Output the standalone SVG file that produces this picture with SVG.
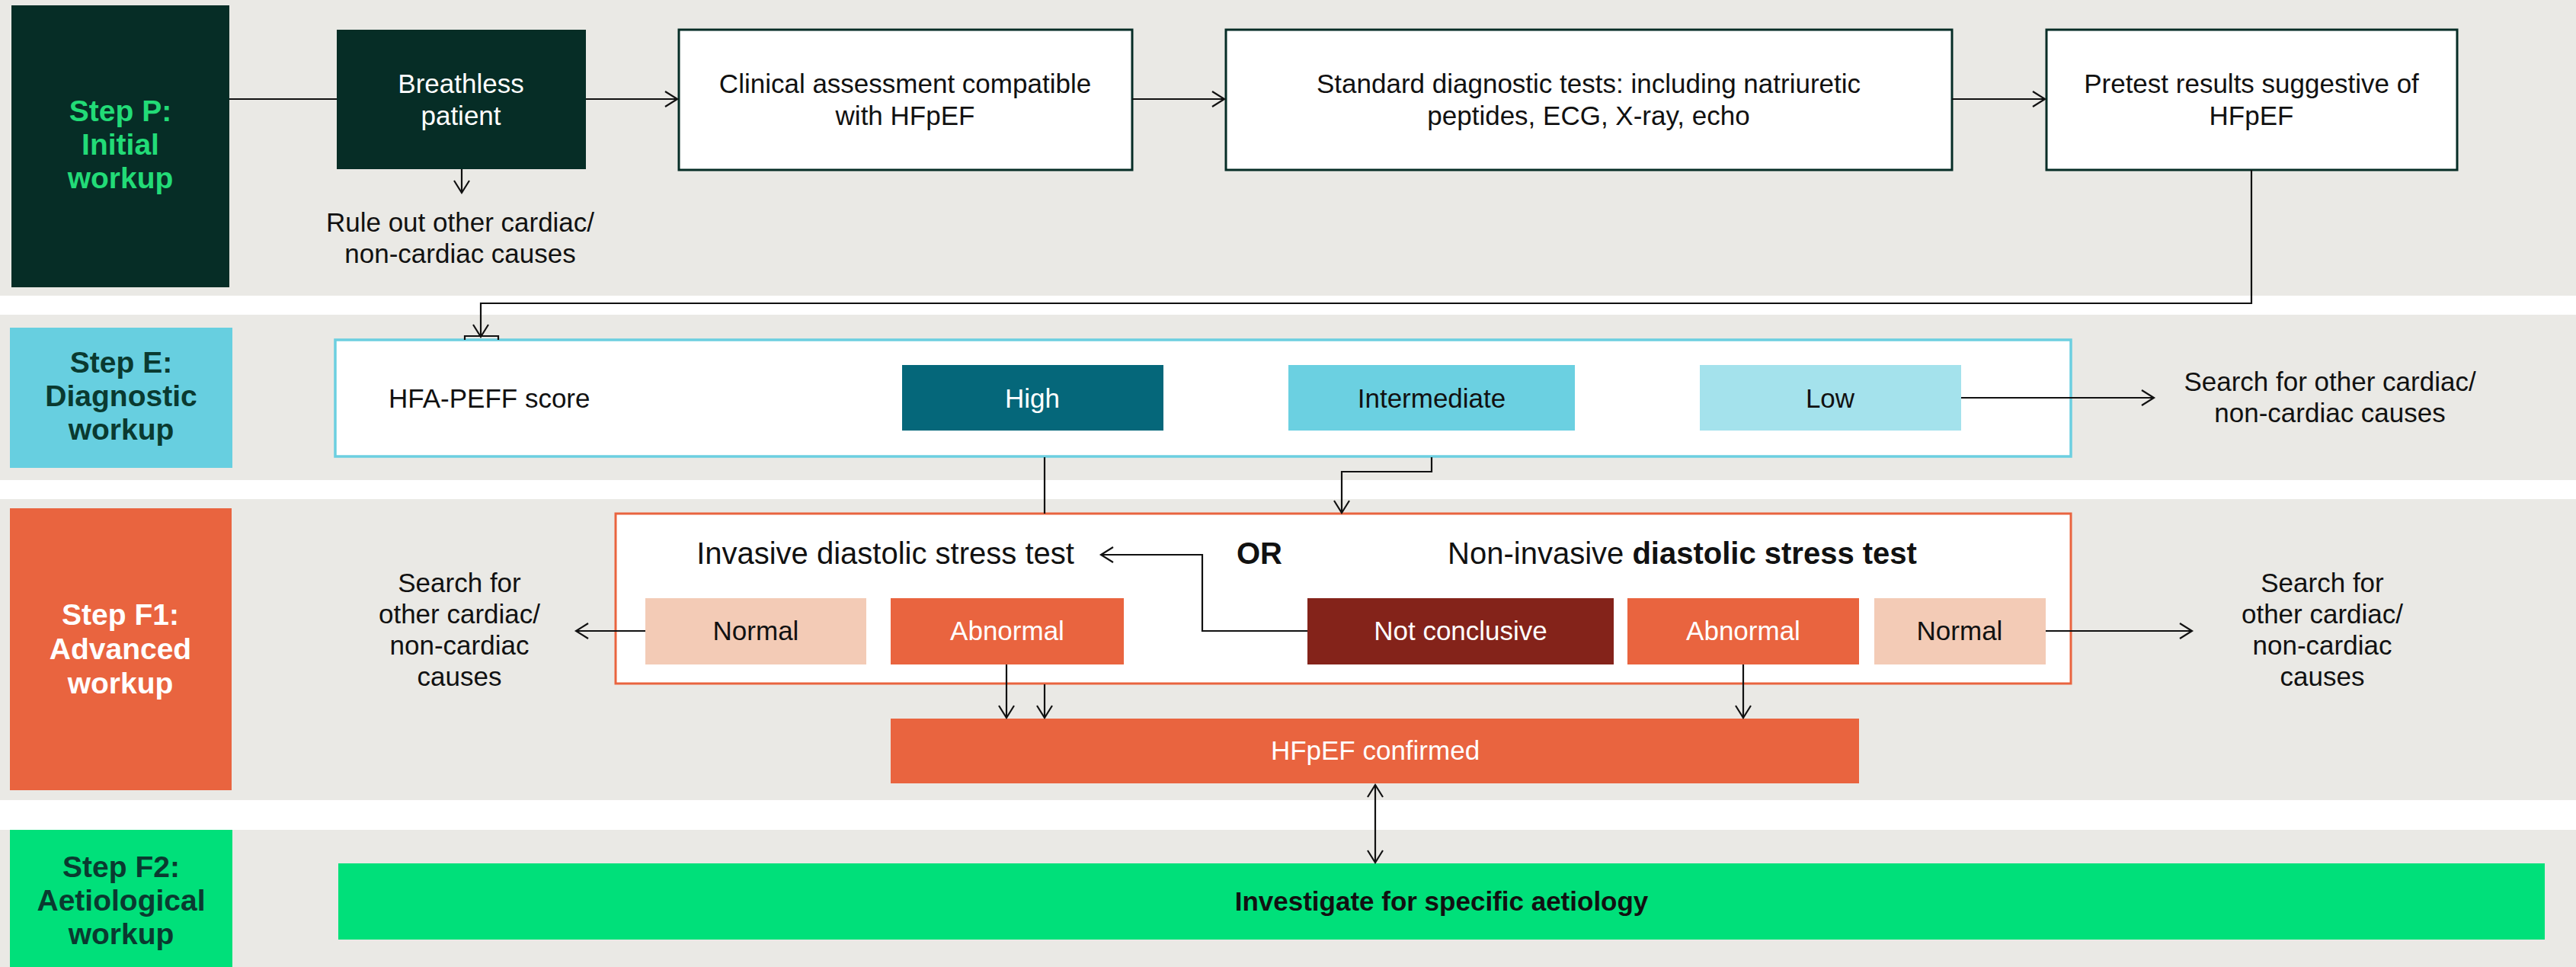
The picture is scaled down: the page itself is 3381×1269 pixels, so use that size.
<svg xmlns="http://www.w3.org/2000/svg" width="3381" height="1269" viewBox="0 0 3381 1269">
<defs>
<style>
text{font-family:"Liberation Sans",Arial,sans-serif;}
.band{fill:#EAE9E5;}
.t{font-size:35px;fill:#111111;text-anchor:middle;}
.tl{font-size:35px;fill:#111111;}
.th{font-size:40px;fill:#111111;}
.step{font-size:39px;font-weight:bold;text-anchor:middle;}
.box{fill:#FFFFFF;stroke:#062D26;stroke-width:3;}
.conn{fill:none;stroke:#111111;stroke-width:2.2;}
</style>
<marker id="ah" markerUnits="userSpaceOnUse" markerWidth="24" markerHeight="24" viewBox="0 0 24 24" refX="21" refY="12" orient="auto-start-reverse">
<path d="M5,2 L21,12 L5,22" fill="none" stroke="#111111" stroke-width="2.2"/>
</marker>
</defs>
<rect width="3381" height="1269" fill="#FFFFFF"/>
<rect class="band" x="0" y="0" width="3381" height="388"/>
<rect class="band" x="0" y="413" width="3381" height="217"/>
<rect class="band" x="0" y="655" width="3381" height="395"/>
<rect class="band" x="0" y="1089" width="3381" height="180"/>

<g id="stepP">
<rect x="15" y="7" width="286" height="370" fill="#062D26"/>
<text class="step" fill="#22DB77" x="158" y="159">Step P:</text>
<text class="step" fill="#22DB77" x="158" y="203">Initial</text>
<text class="step" fill="#22DB77" x="158" y="247">workup</text>
</g>
<g id="breathless">
<rect x="442" y="39" width="327" height="183" fill="#062D26"/>
<text class="t" style="fill:#FFFFFF" x="605" y="122">Breathless</text>
<text class="t" style="fill:#FFFFFF" x="605" y="164">patient</text>
</g>
<g id="ruleout">
<text class="t" x="604" y="304">Rule out other cardiac/</text>
<text class="t" x="604" y="345">non-cardiac causes</text>
</g>
<g id="clinical">
<rect class="box" x="891" y="39" width="595" height="184"/>
<text class="t" x="1188" y="122">Clinical assessment compatible</text>
<text class="t" x="1188" y="164">with HFpEF</text>
</g>
<g id="standard">
<rect class="box" x="1609" y="39" width="953" height="184"/>
<text class="t" x="2085" y="122">Standard diagnostic tests: including natriuretic</text>
<text class="t" x="2085" y="164">peptides, ECG, X-ray, echo</text>
</g>
<g id="pretest">
<rect class="box" x="2686" y="39" width="539" height="184"/>
<text class="t" x="2955" y="122">Pretest results suggestive of</text>
<text class="t" x="2955" y="164">HFpEF</text>
</g>

<g id="stepE">
<rect x="13" y="430" width="292" height="184" fill="#67CFE0"/>
<text class="step" fill="#0A3A30" x="159" y="489">Step E:</text>
<text class="step" fill="#0A3A30" x="159" y="533">Diagnostic</text>
<text class="step" fill="#0A3A30" x="159" y="577">workup</text>
</g>
<g id="hfapeff">
<rect x="440" y="446" width="2278" height="153" fill="#FFFFFF" stroke="#6CCFE0" stroke-width="3.5"/>
<text class="tl" x="510" y="535">HFA-PEFF score</text>
</g>
<g id="high">
<rect x="1184" y="479" width="343" height="86" fill="#05677A"/>
<text class="t" style="fill:#FFFFFF" x="1355" y="535">High</text>
</g>
<g id="intermediate">
<rect x="1691" y="479" width="376" height="86" fill="#6BD0E1"/>
<text class="t" x="1879" y="535">Intermediate</text>
</g>
<g id="low">
<rect x="2231" y="479" width="343" height="86" fill="#A4E2EC"/>
<text class="t" x="2402" y="535">Low</text>
</g>
<g id="searchE">
<text class="t" x="3058" y="513">Search for other cardiac/</text>
<text class="t" x="3058" y="554">non-cardiac causes</text>
</g>

<g id="stepF1">
<rect x="13" y="667" width="291" height="370" fill="#E9643F"/>
<text class="step" fill="#FFFFFF" x="158" y="820">Step F1:</text>
<text class="step" fill="#FFFFFF" x="158" y="865">Advanced</text>
<text class="step" fill="#FFFFFF" x="158" y="910">workup</text>
</g>
<g id="stresstests">
<rect x="808" y="674" width="1910" height="223" fill="#FFFFFF" stroke="#E9643F" stroke-width="3"/>
<text class="th" x="1162" y="740" text-anchor="middle">Invasive diastolic stress test</text>
<text class="th" x="1653" y="740" text-anchor="middle" font-weight="bold">OR</text>
<text class="th" x="2208" y="740" text-anchor="middle">Non-invasive <tspan font-weight="bold">diastolic stress test</tspan></text>
</g>
<g id="normalL">
<rect x="847" y="785" width="290" height="87" fill="#F3CBB6"/>
<text class="t" x="992" y="840">Normal</text>
</g>
<g id="abnormalL">
<rect x="1169" y="785" width="306" height="87" fill="#E9643F"/>
<text class="t" style="fill:#FFFFFF" x="1322" y="840">Abnormal</text>
</g>
<g id="notconclusive">
<rect x="1716" y="785" width="402" height="87" fill="#84231A"/>
<text class="t" style="fill:#FFFFFF" x="1917" y="840">Not conclusive</text>
</g>
<g id="abnormalR">
<rect x="2136" y="785" width="304" height="87" fill="#E9643F"/>
<text class="t" style="fill:#FFFFFF" x="2288" y="840">Abnormal</text>
</g>
<g id="normalR">
<rect x="2460" y="785" width="225" height="87" fill="#F3CBB6"/>
<text class="t" x="2572" y="840">Normal</text>
</g>
<g id="searchF1L">
<text class="t" x="603" y="777">Search for</text>
<text class="t" x="603" y="818">other cardiac/</text>
<text class="t" x="603" y="859">non-cardiac</text>
<text class="t" x="603" y="900">causes</text>
</g>
<g id="searchF1R">
<text class="t" x="3048" y="777">Search for</text>
<text class="t" x="3048" y="818">other cardiac/</text>
<text class="t" x="3048" y="859">non-cardiac</text>
<text class="t" x="3048" y="900">causes</text>
</g>
<g id="confirmed">
<rect x="1169" y="943" width="1271" height="85" fill="#E9643F"/>
<text class="t" style="fill:#FFFFFF" x="1805" y="997">HFpEF confirmed</text>
</g>

<g id="stepF2">
<rect x="13" y="1089" width="292" height="180" fill="#00E07A"/>
<text class="step" fill="#0A3A30" x="159" y="1151">Step F2:</text>
<text class="step" fill="#0A3A30" x="159" y="1195">Aetiological</text>
<text class="step" fill="#0A3A30" x="159" y="1239">workup</text>
</g>
<g id="investigate">
<rect x="444" y="1133" width="2896" height="100" fill="#00E07A"/>
<text class="t" font-weight="bold" x="1892" y="1195">Investigate for specific aetiology</text>
</g>

<g id="connectors">
<path class="conn" d="M301,130 H442"/>
<path class="conn" d="M769,130 H889" marker-end="url(#ah)"/>
<path class="conn" d="M1486,130 H1607" marker-end="url(#ah)"/>
<path class="conn" d="M2562,130 H2684" marker-end="url(#ah)"/>
<path class="conn" d="M606,222 V253" marker-end="url(#ah)"/>
<path class="conn" d="M2955,223 V398 H631 V442" marker-end="url(#ah)"/>
<path class="conn" d="M610,446 V441 H654 V446"/>
<path class="conn" d="M2574,522 H2827" marker-end="url(#ah)"/>
<path class="conn" d="M1371,600 V674"/>
<path class="conn" d="M1879,600 V619 H1761 V673" marker-end="url(#ah)"/>
<path class="conn" d="M1716,828 H1578 V728 H1445" marker-end="url(#ah)"/>
<path class="conn" d="M847,828 H756" marker-end="url(#ah)"/>
<path class="conn" d="M2685,828 H2877" marker-end="url(#ah)"/>
<path class="conn" d="M1321,872 V942" marker-end="url(#ah)"/>
<path class="conn" d="M1371,898 V942" marker-end="url(#ah)"/>
<path class="conn" d="M2288,872 V942" marker-end="url(#ah)"/>
<path class="conn" d="M1805,1030 V1132" marker-start="url(#ah)" marker-end="url(#ah)"/>
</g>
</svg>
